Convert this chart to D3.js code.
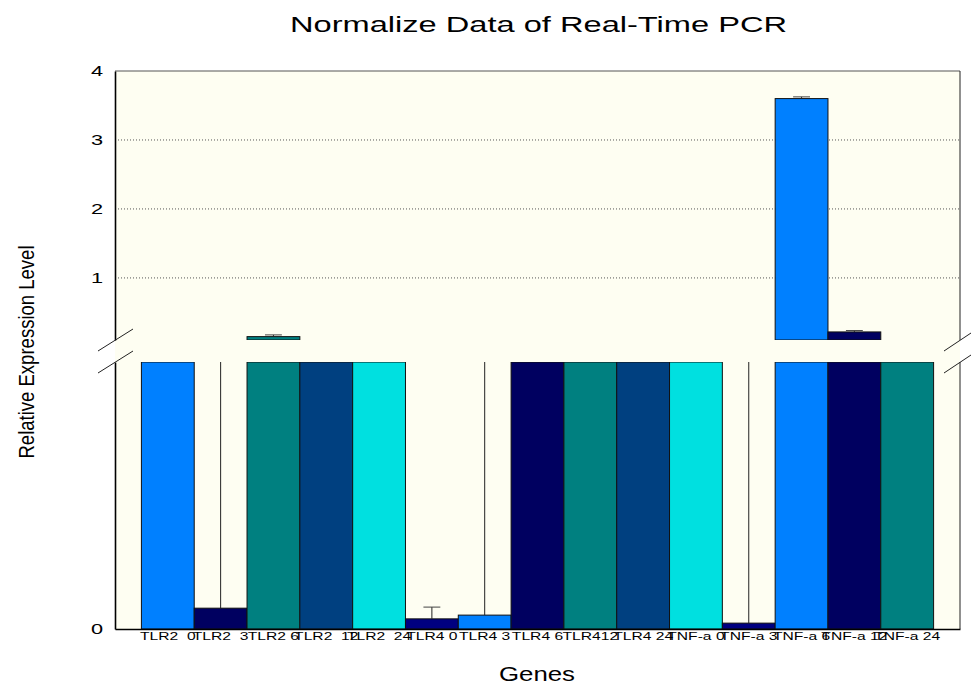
<!DOCTYPE html>
<html>
<head>
<meta charset="utf-8">
<script src="https://cdn.jsdelivr.net/npm/d3@7"></script>
<style>
  body { margin: 0; background: #fff; }
  text { font-family: Arial, "Liberation Sans", sans-serif; fill: #000; }
</style>
</head>
<body>
<div id="chart"></div>
<script>
// data
var genes = ["TLR2  0", "TLR2  3", "TLR2 6", "TLR2  12", "TLR2  24",
             "TLR4 0", "TLR4 3", "TLR4 6", "TLR412", "TLR4 24",
             "TNF-a 0", "TNF-a 3", "TNF-a 6", "TNF-a 12", "TNF-a 24"]
var values = [0.09, 0.0039, 0.149, 0.09, 0.09,
              0.0019, 0.0026, 0.09, 0.09, 0.09,
              0.09, 0.0011, 3.6, 0.217, 0.09]
var errors = [0, 0.06, 0.025, 0, 0,
              0.0022, 0.06, 0, 0, 0,
              0, 0.06, 0.025, 0.02, 0]
var topTicks = [1, 2, 3, 4]
var bottomTicks = [0]

var colors = ["#0080ff", "#000060", "#008080", "#004080", "#00e0e0", "#000080"]

var width = 971, height = 684
var left = 115, right = 960
var topY = 71, breakTop = 340, breakBottom = 362, baseY = 629

var svg = d3.select("#chart").append("svg")
    .attr("width", width)
    .attr("height", height)

var x = d3.scaleBand()
    .domain(genes)
    .range([left, right])
    .paddingInner(0)
    .paddingOuter(0.5)

// broken y axis: upper part and lower part
var yTop = d3.scaleLinear().domain([0.1, 4]).range([breakTop, topY])
var yBot = d3.scaleLinear().domain([0, 0.05]).range([baseY, breakBottom])

// plot background
svg.append("rect")
    .attr("x", left).attr("y", topY)
    .attr("width", right - left).attr("height", baseY - topY)
    .attr("fill", "#fefef2")

// clip regions for both parts
var defs = svg.append("defs")
defs.append("clipPath").attr("id", "clipTop").append("rect")
    .attr("x", left).attr("y", topY - 10).attr("width", right - left).attr("height", breakTop - topY + 10)
defs.append("clipPath").attr("id", "clipBot").append("rect")
    .attr("x", left).attr("y", breakBottom).attr("width", right - left).attr("height", baseY - breakBottom)

// dotted grid in upper part
svg.append("g").selectAll("line")
    .data(topTicks.filter(function(d){ return d < 4 }))
    .enter().append("line")
    .attr("x1", left).attr("x2", right)
    .attr("y1", function(d){ return yTop(d) }).attr("y2", function(d){ return yTop(d) })
    .attr("stroke", "#555")
    .attr("stroke-dasharray", "1,2")

var gTop = svg.append("g").attr("clip-path", "url(#clipTop)")
var gBot = svg.append("g").attr("clip-path", "url(#clipBot)")

var bars = genes.map(function(g, i){ return {g: g, v: values[i], e: errors[i], c: colors[i % colors.length]} })

// lower bars
gBot.selectAll("rect")
    .data(bars)
    .enter().append("rect")
    .attr("x", function(d){ return x(d.g) })
    .attr("width", x.bandwidth())
    .attr("y", function(d){ return yBot(Math.min(d.v, 0.05)) })
    .attr("height", function(d){ return baseY - yBot(Math.min(d.v, 0.05)) })
    .attr("fill", function(d){ return d.c })
    .attr("stroke", "#111")
    .attr("stroke-width", 1)

// upper bars (only what reaches the upper part)
gTop.selectAll("rect")
    .data(bars.filter(function(d){ return d.v > 0.1 }))
    .enter().append("rect")
    .attr("x", function(d){ return x(d.g) })
    .attr("width", x.bandwidth())
    .attr("y", function(d){ return yTop(d.v) })
    .attr("height", function(d){ return breakTop - yTop(d.v) })
    .attr("fill", function(d){ return d.c })
    .attr("stroke", "#111")
    .attr("stroke-width", 1)

// error bars, drawn in each part with its own scale
function drawErrors(g, y) {
  var eb = bars.filter(function(d){ return d.e > 0 })
  var cap = x.bandwidth() * 0.32
  g.selectAll(".err")
    .data(eb)
    .enter().append("line")
    .attr("class", "err")
    .attr("x1", function(d){ return x(d.g) + x.bandwidth() / 2 })
    .attr("x2", function(d){ return x(d.g) + x.bandwidth() / 2 })
    .attr("y1", function(d){ return y(d.v) })
    .attr("y2", function(d){ return y(d.v + d.e) })
    .attr("stroke", "#222")
  g.selectAll(".cap")
    .data(eb)
    .enter().append("line")
    .attr("class", "cap")
    .attr("x1", function(d){ return x(d.g) + x.bandwidth() / 2 - cap / 2 })
    .attr("x2", function(d){ return x(d.g) + x.bandwidth() / 2 + cap / 2 })
    .attr("y1", function(d){ return y(d.v + d.e) })
    .attr("y2", function(d){ return y(d.v + d.e) })
    .attr("stroke", "#444")
}
drawErrors(gBot, yBot)
drawErrors(gTop, yTop)

// frame: top and right borders
svg.append("line").attr("x1", left).attr("x2", right).attr("y1", topY).attr("y2", topY)
    .attr("stroke", "#555")
svg.append("line").attr("x1", right).attr("x2", right).attr("y1", topY).attr("y2", breakTop)
    .attr("stroke", "#222")
svg.append("line").attr("x1", right).attr("x2", right).attr("y1", breakBottom).attr("y2", baseY)
    .attr("stroke", "#222")

// axes
var sx = 1.45
var axTop = svg.append("g").attr("transform", "translate(" + left + ",0)")
    .call(d3.axisLeft(yTop).tickValues(topTicks).tickSize(0).tickSizeOuter(0).tickFormat(d3.format("d")))
var axBot = svg.append("g").attr("transform", "translate(" + left + ",0)")
    .call(d3.axisLeft(yBot).tickValues(bottomTicks).tickSize(0).tickSizeOuter(0).tickFormat(d3.format("d")))
;[axTop, axBot].forEach(function(a){
  a.select(".domain").attr("stroke", "#000").attr("stroke-width", 1.6)
  a.selectAll("text")
    .attr("x", -12 / sx)
    .attr("transform", "scale(" + sx + ",1)")
    .style("font-size", "15px")
    .style("font-family", "Arial, 'Liberation Sans', sans-serif")
})

var axX = svg.append("g").attr("transform", "translate(0," + baseY + ")")
    .call(d3.axisBottom(x).tickSize(0).tickSizeOuter(0))
axX.select(".domain").attr("stroke", "#000").attr("stroke-width", 1.6)
axX.selectAll("text")
    .attr("y", 3)
    .attr("transform", "scale(1.36,1)")
    .style("font-size", "11.5px")
    .style("font-family", "Arial, 'Liberation Sans', sans-serif")
    .style("white-space", "pre")

// axis break marks
var breaks = [[98, 351, 133, 329], [98, 373, 133, 351], [944, 351, 971, 333], [944, 373, 971, 355]]
svg.append("g").selectAll("line")
    .data(breaks)
    .enter().append("line")
    .attr("x1", function(d){ return d[0] }).attr("y1", function(d){ return d[1] })
    .attr("x2", function(d){ return d[2] }).attr("y2", function(d){ return d[3] })
    .attr("stroke", "#222")

// titles
svg.append("text")
    .attr("x", 538.5).attr("y", 32)
    .attr("text-anchor", "middle")
    .attr("textLength", 497).attr("lengthAdjust", "spacingAndGlyphs")
    .style("font-size", "22px")
    .text("Normalize Data of Real-Time PCR")

svg.append("text")
    .attr("x", 537).attr("y", 681)
    .attr("text-anchor", "middle")
    .attr("textLength", 76).attr("lengthAdjust", "spacingAndGlyphs")
    .style("font-size", "19.5px")
    .text("Genes")

svg.append("text")
    .attr("transform", "translate(34,352) rotate(-90)")
    .attr("text-anchor", "middle")
    .attr("textLength", 213).attr("lengthAdjust", "spacingAndGlyphs")
    .style("font-size", "22px")
    .text("Relative Expression Level")
</script>
</body>
</html>
